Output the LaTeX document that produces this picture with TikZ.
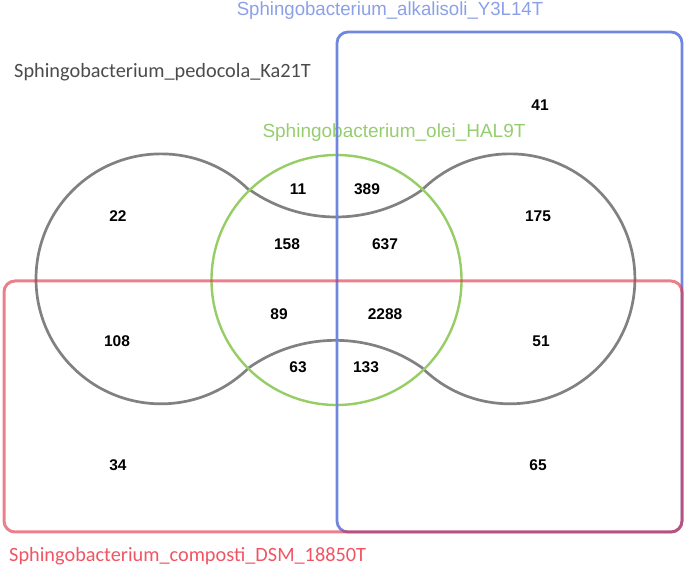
\documentclass[tikz,border=0pt]{standalone}
\usepackage{fontspec}
\setmainfont{Liberation Sans}
\newfontfamily\calibri{Carlito}
\definecolor{greyc}{RGB}{115,115,115}
\definecolor{greenc}{RGB}{150,205,100}
\definecolor{bluec}{RGB}{112,135,225}
\definecolor{redc}{RGB}{222,50,70}
\definecolor{bluelab}{RGB}{140,160,232}
\definecolor{greenlab}{RGB}{150,205,110}
\definecolor{redlab}{RGB}{240,85,100}
\definecolor{greylab}{RGB}{75,75,75}
\begin{document}
\begin{tikzpicture}[x=1pt,y=1pt,
  num/.style={font=\fontsize{15.5}{16}\selectfont\bfseries, text=black, inner sep=0pt},
  lab/.style={font=\fontsize{19}{19}\selectfont, inner sep=0pt},
  clab/.style={font=\calibri\fontsize{20.3}{21}\selectfont, inner sep=0pt}]
\useasboundingbox (0,0) rectangle (685,575);
% labels
\node[lab, text=bluelab, xscale=0.98] (lalk) at (390,564) {Sphingobacterium\_alkalisoli\_Y3L14T};
\node[clab, text=greylab, anchor=west] (lped) at (14,503) {Sphingobacterium\_pedocola\_Ka21T};
\node[lab, text=greenlab] (lole) at (394,442) {Sphingobacterium\_olei\_HAL9T};
\node[clab, text=redlab, anchor=west] (lcom) at (9,19) {Sphingobacterium\_composti\_DSM\_18850T};
% grey dumbbell
\draw[greyc, line width=2.7pt, opacity=0.9]
  ([shift={(235.15:150.5)}]336,508.5)
  arc[start angle=235.15, end angle=304.85, radius=150.5]
  arc[start angle=134.7, end angle=-134.7, radius=125]
  arc[start angle=54.9, end angle=125.1, radius=150.5]
  arc[start angle=-45.3, end angle=-314.7, radius=125] -- cycle;
% green circle
\draw[greenc, line width=2.4pt] (336.5,295) circle[radius=125];
% blue rectangle
\draw[bluec, line width=2.8pt, rounded corners=11pt] (337,43) rectangle (682,543);
% red rectangle
\draw[redc, line width=3pt, rounded corners=11pt, opacity=0.62] (4,43) rectangle (682,294);
% numbers
\node[num] (n41) at (540,470) {41};
\node[num] (n22) at (118,359) {22};
\node[num] (n11) at (298,386) {11};
\node[num] (n389) at (367,386) {389};
\node[num] (n175) at (538,359) {175};
\node[num] (n158) at (287,331) {158};
\node[num] (n637) at (385,331) {637};
\node[num] (n89) at (279,261) {89};
\node[num] (n2288) at (385,261) {2288};
\node[num] (n108) at (117,234) {108};
\node[num] (n51) at (541,234) {51};
\node[num] (n63) at (298,208) {63};
\node[num] (n133) at (366,208) {133};
\node[num] (n34) at (118,110) {34};
\node[num] (n65) at (538,110) {65};
\end{tikzpicture}
\end{document}
